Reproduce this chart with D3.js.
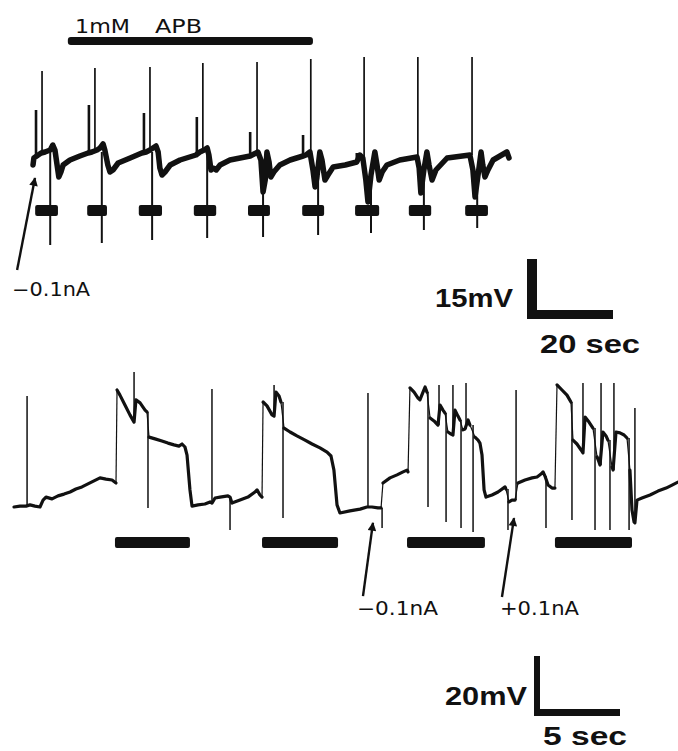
<!DOCTYPE html>
<html>
<head>
<meta charset="utf-8">
<script src="https://cdn.jsdelivr.net/npm/d3@7"></script>
<style>
  body { margin: 0; background: #fff; }
  svg { display: block; }
</style>
</head>
<body>
<svg id="chart" width="678" height="751"></svg>
<script>
// ---------- Top record (1mM APB), time in sec, voltage in mV from rest ----------
const topTrace = [
  [0.7,-1.25],[0.9,0.5],[1.9,1.25],[2.6,1.75],[3.5,2],[4.7,2.5],[5.3,3.75],[5.8,2.5],[6.3,-1.25],[6.7,-4.25],
  [7.2,-3],[7.7,-1.25],[9.3,0],[11.6,1],[13.5,1.75],
  [14.4,2],[15.6,2.5],[16.3,3],[17.0,4],[17.4,2.5],[18.1,-1.25],[18.6,-3],[19.3,-2.5],[20.5,-0.75],[23.3,0.5],[26.0,1.75],
  [27.0,2],[27.9,2.5],[28.6,3],[29.3,3.5],[29.8,2],[30.2,-2],[30.7,-3.75],[31.4,-3],[32.6,-1.25],[34.9,0],[38.6,1.25],
  [39.5,2],[40.5,2.5],[41.2,3],[41.6,1.25],[42.1,-2.5],[42.6,-2],[43.3,-2.5],[44.2,-1.25],[46.5,0],[51.2,1],
  [52.1,1.5],[53.0,2],[53.7,0],[54.2,-8],[54.7,-5],[55.1,2],[55.6,-0.5],[56.0,-4.25],[56.7,-3],[58.1,-1.25],[60.5,0],[63.5,1],
  [64.2,1.25],[65.1,2],[65.8,-2.5],[66.3,-6.75],[66.7,-4.5],[67.4,2],[67.9,0],[68.6,-5],[69.3,-3.75],[70.5,-1.75],[73.3,-1.25],[76.0,-0.5],
  [76.7,1.25],[77.4,0.5],[78.1,-5],[78.6,-10.5],[79.3,-3.75],[80.2,2],[80.7,-1.25],[81.2,-5],[81.9,-3],[83.0,-1.25],[86.0,0],[90.0,0.75],
  [90.5,-2],[90.9,-8.25],[91.6,-2.5],[92.3,2],[92.8,-1.25],[93.5,-5],[94.4,-2.5],[97.0,0.5],[102.3,1.25],
  [103.0,-2.5],[103.5,-9.25],[104.2,-3.75],[104.9,2],[105.3,-1.25],[105.8,-4.25],[106.5,-2.5],[107.7,0],[109.3,1],[110.9,2],[111.4,0.5]
];
// [time, from mV, peak mV]
const topSpikes = [
  [2.8,1.75,22.25],[15.1,2.5,23],[27.9,2.5,23.25],[40.2,2.5,24.25],[52.8,2,24.5],
  [65.3,2,25.25],[77.7,0.5,25.75],[90.2,0.75,25.75],[102.8,1.25,25.75]
];
const topSmallPeaks = [
  [1.4,1.25,12.5],[13.7,1.75,13.75],[26.5,2,11.75],[38.8,1.5,10.75],[51.2,1,7],[63.5,1,6.25],[76.0,0,1.75]
];
// current-pulse artefacts [time, from mV, to mV]
const topArtifacts = [
  [4.7,2,-21.25],[16.7,2,-20.75],[28.4,2,-20],[41.2,2,-19.5],[54.2,-5,-19.25],
  [67.0,-4,-18.75],[79.3,-4,-18.25],[91.6,-2.5,-17.5],[104.0,-4,-17]
];
// stimulus pulses [start, end] sec
const topStim = [
  [1.2,6.5],[13.3,17.9],[25.3,30.7],[38.1,43.3],[50.7,55.8],[63.3,68.4],[75.6,81.2],[88.1,93.3],[101.2,106.5]
];
const apbPeriod = [8.8, 65.8];

// ---------- Bottom record ----------
const bottomSegments = [
  [[0,0],[0.35,0.3],[0.7,0.3],[0.93,0.7],[1.22,0.3],[1.51,0],[1.69,2.3],[1.86,3.3],[2.21,2.7],[2.56,3.7],[2.91,4.3],
   [3.26,5],[3.6,6],[3.95,6.7],[4.3,7.7],[4.65,8.7],[5.0,9.7],[5.35,9.3],[5.7,9],[5.93,8]],
  [[5.99,39],[6.16,37.3],[6.45,34],[6.74,30.7],[6.98,28.3],[7.09,35.7],[7.33,34.7],[7.62,32.3],[7.73,31.7]],
  [[7.85,23.3],[8.2,22.7],[8.6,22],[8.95,21.3],[9.3,20.7],[9.59,20.3],[9.77,21],[9.94,20],[10.06,17.3],[10.23,5.7],
   [10.35,0.3],[10.7,0.7],[11.1,1],[11.4,1.7],[11.51,1.3],[11.69,3],[11.98,3.3],[12.44,3.7],[12.56,3.3],[12.67,1.3],
   [13.14,2.3],[13.6,3.3],[14.01,5],[14.13,5.7],[14.3,4],[14.42,3.3]],
  [[14.48,35],[14.71,33.7],[15.0,30.7],[15.12,30.3],[15.23,38.3],[15.41,37],[15.52,35]],
  [[15.7,26.3],[16.05,25],[16.45,23.7],[16.92,22.3],[17.33,21],[17.79,19.7],[18.2,18.3],[18.43,17],[18.6,12.3],
   [18.78,0.7],[18.95,-2],[19.53,-1.3],[20.12,-0.7],[20.52,0],[20.81,0],[21.16,-0.3],[21.34,-0.3]],
  [[21.45,8],[21.86,9.7],[22.27,10.7],[22.62,11.7],[22.85,12.3],[22.91,11.7]],
  [[23.02,39.7],[23.26,38.3],[23.49,36.3],[23.6,35.7],[23.78,38.3],[23.9,40],[24.01,38.3]],
  [[24.19,29.7],[24.42,28.7],[24.65,27.3],[24.77,34],[24.94,32.3],[25.06,31.3]],
  [[25.23,25],[25.41,24.3],[25.52,24],[25.64,32.3],[25.81,30.3],[25.93,29]],
  [[26.1,25.7],[26.22,26],[26.4,29],[26.51,27.3]],
  [[26.8,23.3],[26.98,22.3],[27.09,21.3],[27.21,17.3],[27.33,5.7],[27.44,3.3],[27.79,4],[28.14,5],[28.55,6.7],[28.6,6]],
  [[28.78,1.7],[28.95,2.3],[29.13,2.3]],
  [[29.3,8],[29.71,9],[30.12,9.7],[30.41,10],[30.64,11],[30.76,11.7],[30.87,10.3],[31.05,7.3],[31.28,6.3],[31.45,6.3]],
  [[31.57,40.7],[31.86,39],[32.15,37.3],[32.38,35]],
  [[32.5,22.3],[32.73,21],[32.97,19],[33.08,18],[33.2,30],[33.43,28.3],[33.66,26.3]],
  [[33.9,16.7],[34.01,15],[34.07,14],[34.24,25],[34.42,23.7],[34.53,22.3]],
  [[34.77,13.3],[34.83,12.3],[35.0,25],[35.23,24.7],[35.47,24],[35.64,23]],
  [[35.81,12.3],[35.93,-1],[36.05,-5],[36.1,-5.3],[36.22,2.3],[36.51,3],[36.98,4],[37.44,5.3],[37.91,6.3],[38.26,7.3],[38.6,8.3]]
];
const bottomSpikes = [
  [0.76,0.3,37],[6.98,28.3,45],[11.51,1.3,39.3],[15.12,30.3,40.7],[20.58,0,38],[24.71,27.3,40.7],[25.52,24,40.7],
  [26.28,26,41.3],[29.19,2.3,39],[33.08,18,41.3],[34.13,14,41.3],[34.88,12.3,41.3],[36.1,-5.3,33]
];
const bottomDownSpikes = [
  [7.79,31.7,-0.3],[12.56,3.3,-7.7],[15.64,35,-3.7],[21.4,-0.3,-7],[24.07,38.3,0],[25.12,31.3,-5],[25.99,29,-7],
  [26.69,27.3,-8.3],[28.72,6,-7.7],[30.93,10.3,-7],[32.44,35,-4.3],[33.78,26.3,-7.7],[34.65,22.3,-7.7],[35.76,23,-7.7]
];
const bottomStim = [[5.87,10.23],[14.42,18.84],[22.85,27.38],[31.45,35.93]];

// current injection marks
const topNotes = [{ label: "\u22120.1nA", tip: [1.16,-4.5], tail: [-3.0,-27.5], dx: -5, dy: 26, len: 78 }];
const bottomNotes = [
  { label: "\u22120.1nA", tip: [20.87,-5.3], tail: [20.29,-29.7], dx: -6, dy: 19, len: 81 },
  { label: "+0.1nA", tip: [29.07,-3.7], tail: [28.37,-30], dx: -2, dy: 18, len: 79 }
];

// ---------- scales ----------
const xTop = d3.scaleLinear().domain([0, 20]).range([30, 116]);
const yTop = d3.scaleLinear().domain([0, 15]).range([160, 100]);
const xBot = d3.scaleLinear().domain([0, 5]).range([14, 100]);
const yBot = d3.scaleLinear().domain([0, 20]).range([507, 447]);

const svg = d3.select("#chart");
const ink = "#111";

svg.append("defs").append("marker")
  .attr("id", "head").attr("viewBox", "0 0 10 10")
  .attr("refX", 9).attr("refY", 5)
  .attr("markerWidth", 5.5).attr("markerHeight", 3.6)
  .attr("markerUnits", "strokeWidth").attr("orient", "auto")
  .append("path").attr("d", "M0,0L10,5L0,10Z").attr("fill", ink);

function drawRecord(g, x, y, o) {
  // vertical lines (spikes / artefacts)
  g.append("g").selectAll("line").data(o.down).join("line")
    .attr("x1", d => x(d[0])).attr("x2", d => x(d[0]))
    .attr("y1", d => y(d[1])).attr("y2", d => y(d[2]))
    .attr("stroke", ink).attr("stroke-width", o.downW);
  g.append("g").selectAll("line").data(o.spikes).join("line")
    .attr("x1", d => x(d[0])).attr("x2", d => x(d[0]))
    .attr("y1", d => y(d[1])).attr("y2", d => y(d[2]))
    .attr("stroke", ink).attr("stroke-width", o.spikeW);
  // stimulus bars
  g.append("g").selectAll("rect").data(o.stim).join("rect")
    .attr("x", d => x(d[0])).attr("width", d => x(d[1]) - x(d[0]))
    .attr("y", o.stimY).attr("height", o.stimH).attr("rx", 2)
    .attr("fill", ink);
}

function label(g, x, y, len, size, txt, bold) {
  return g.append("text").attr("x", x).attr("y", y)
    .attr("textLength", len).attr("lengthAdjust", "spacingAndGlyphs")
    .attr("font-family", bold ? "Liberation Sans" : "DejaVu Sans")
    .attr("font-weight", bold ? "bold" : "normal")
    .attr("font-size", size).attr("fill", ink).text(txt);
}

// ---------- top record ----------
const topG = svg.append("g");
const topLine = d3.line().x(d => xTop(d[0])).y(d => yTop(d[1]));

topG.append("rect")
  .attr("x", xTop(apbPeriod[0])).attr("width", xTop(apbPeriod[1]) - xTop(apbPeriod[0]))
  .attr("y", 37).attr("height", 8).attr("rx", 3).attr("fill", ink);
label(topG, 75, 33, 55, 19, "1mM");
label(topG, 155, 33, 47, 19, "APB");

drawRecord(topG, xTop, yTop, {
  down: topArtifacts, downW: 2, spikes: topSpikes, spikeW: 1.7, stim: topStim, stimY: 205, stimH: 11
});
topG.append("g").selectAll("line").data(topSmallPeaks).join("line")
  .attr("x1", d => xTop(d[0])).attr("x2", d => xTop(d[0]))
  .attr("y1", d => yTop(d[1])).attr("y2", d => yTop(d[2]))
  .attr("stroke", ink).attr("stroke-width", 2.6);
topG.append("path").attr("d", topLine(topTrace))
  .attr("fill", "none").attr("stroke", ink).attr("stroke-width", 5.5)
  .attr("stroke-linejoin", "round").attr("stroke-linecap", "round");

// ---------- bottom record ----------
const botG = svg.append("g");
const botLine = d3.line().x(d => xBot(d[0])).y(d => yBot(d[1]));
drawRecord(botG, xBot, yBot, {
  down: bottomDownSpikes, downW: 1.5, spikes: bottomSpikes, spikeW: 1.5, stim: bottomStim, stimY: 537, stimH: 11
});
// fast transitions between segments
botG.append("g").selectAll("line").data(d3.pairs(bottomSegments)).join("line")
  .attr("x1", d => xBot(d[0][d[0].length - 1][0])).attr("y1", d => yBot(d[0][d[0].length - 1][1]))
  .attr("x2", d => xBot(d[1][0][0])).attr("y2", d => yBot(d[1][0][1]))
  .attr("stroke", ink).attr("stroke-width", 1.2);
botG.append("g").selectAll("path").data(bottomSegments).join("path")
  .attr("d", botLine)
  .attr("fill", "none").attr("stroke", ink).attr("stroke-width", 3.2)
  .attr("stroke-linejoin", "round").attr("stroke-linecap", "round");

// ---------- arrows + labels ----------
function notes(g, x, y, list) {
  g.selectAll("line.arrow").data(list).join("line").attr("class", "arrow")
    .attr("x1", d => x(d.tail[0])).attr("y1", d => y(d.tail[1]))
    .attr("x2", d => x(d.tip[0])).attr("y2", d => y(d.tip[1]))
    .attr("stroke", ink).attr("stroke-width", 2.4).attr("marker-end", "url(#head)");
  list.forEach(d => label(g, x(d.tail[0]) + d.dx, y(d.tail[1]) + d.dy, d.len, 19, d.label));
}
notes(topG, xTop, yTop, topNotes);
notes(botG, xBot, yBot, bottomNotes);

// ---------- scale bars ----------
function scaleBar(g, x, y, o) {
  const w = x(o.sec) - x(0), h = y(0) - y(o.mv);
  g.append("rect").attr("x", o.x).attr("y", o.y - h).attr("width", o.t).attr("height", h).attr("fill", ink);
  g.append("rect").attr("x", o.x).attr("y", o.y - o.t2).attr("width", w).attr("height", o.t2).attr("fill", ink);
  label(g, o.mvX, o.mvY, o.mvLen, o.fs, o.mv + "mV", true);
  label(g, o.sX, o.sY, o.sLen, o.fs, o.sec + " sec", true);
}
scaleBar(topG, xTop, yTop, { sec: 20, mv: 15, x: 527, y: 319, t: 10, t2: 9,
  mvX: 435, mvY: 307, mvLen: 78, sX: 540, sY: 353, sLen: 100, fs: 26 });
scaleBar(botG, xBot, yBot, { sec: 5, mv: 20, x: 534, y: 716, t: 6, t2: 7,
  mvX: 445, mvY: 705, mvLen: 82, sX: 543, sY: 745, sLen: 84, fs: 25 });
</script>
</body>
</html>
